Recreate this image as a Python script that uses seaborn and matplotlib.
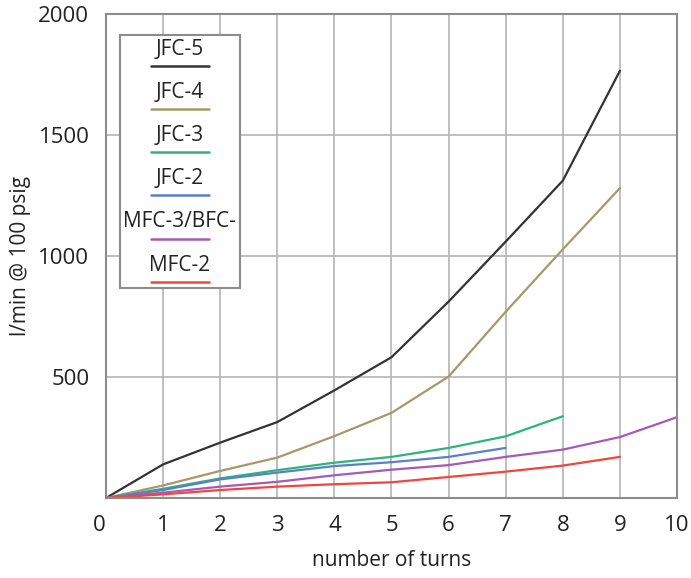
import pandas as pd
import matplotlib
matplotlib.use("Agg")
import matplotlib.pyplot as plt
import seaborn as sns
from matplotlib.offsetbox import AnchoredOffsetbox, VPacker, TextArea, DrawingArea
from matplotlib.lines import Line2D

# flow readings per model (l/min @ 100 psig) by number of turns
jfc5 = [0, 139, 229, 314, 445, 582, 812, 1060, 1312, 1766]
jfc4 = [0, 52, 112, 167, 256, 352, 502, 770, 1028, 1281]
jfc3 = [0, 38, 81, 115, 146, 170, 207, 255, 338]
jfc2 = [0, 33, 77, 105, 132, 148, 170, 207]
mfc3 = [0, 22, 47, 67, 94, 117, 136, 170, 200, 252, 334]
mfc2 = [0, 15, 33, 47, 57, 65, 87, 109, 134, 170]

names = ["JFC-5", "JFC-4", "JFC-3", "JFC-2", "MFC-3/BFC-", "MFC-2"]
colors = ["#333333", "#a8976a", "#2bb57c", "#5b7fca", "#a55ab8", "#f0463c"]
series = [jfc5, jfc4, jfc3, jfc2, mfc3, mfc2]

rows = []
for name, vals in zip(names, series):
    for turn, v in enumerate(vals):
        rows.append({"turns": turn, "flow": v, "model": name})
df = pd.DataFrame(rows)

sns.set_style("white")
plt.rcParams["font.family"] = ["Open Sans", "DejaVu Sans"]

fig = plt.figure(figsize=(6.91, 5.78), dpi=100)
ax = fig.add_axes([0.1534, 0.1384, 0.8263, 0.8369])

sns.lineplot(data=df, x="turns", y="flow", hue="model", hue_order=names,
             palette=colors, linewidth=1.6, legend=False, ax=ax)

ax.set_xlim(0, 10)
ax.set_ylim(0, 2000)
ax.set_xticks(range(0, 11))
ax.set_yticks([0, 500, 1000, 1500, 2000])
ax.set_yticklabels(["", "500", "1000", "1500", "2000"])
ax.grid(True, color="#b4b4b4", linewidth=1.2)
ax.tick_params(length=0, labelsize=16, colors="#222222", pad=12)
ax.get_xticklabels()[0].set_horizontalalignment("right")
for s in ax.spines.values():
    s.set_color("#8c8c8c")
    s.set_linewidth(1.5)
ax.set_xlabel("number of turns", fontsize=15, color="#222222", labelpad=10)
ax.set_ylabel("l/min @ 100 psig", fontsize=15, color="#222222", labelpad=5)

# legend: name on top, line sample below
entries = []
for name, col in zip(names, colors):
    txt = TextArea(name, textprops=dict(fontsize=15, color="#222222"))
    da = DrawingArea(42, 4)
    da.add_artist(Line2D([0, 42], [2, 2], color=col, linewidth=1.8))
    entries.append(VPacker(children=[txt, da], align="center", pad=0, sep=2.5))
box = VPacker(children=entries, align="center", pad=0, sep=9.5)
leg = AnchoredOffsetbox(loc="upper left", child=box, pad=0.25, borderpad=0,
                        frameon=True, bbox_to_anchor=(0.0245, 0.957),
                        bbox_transform=ax.transAxes)
leg.patch.set_edgecolor("#8c8c8c")
leg.patch.set_linewidth(1.5)
leg.patch.set_boxstyle("square", pad=0)
ax.add_artist(leg)

fig.savefig("out.png", dpi=100)
